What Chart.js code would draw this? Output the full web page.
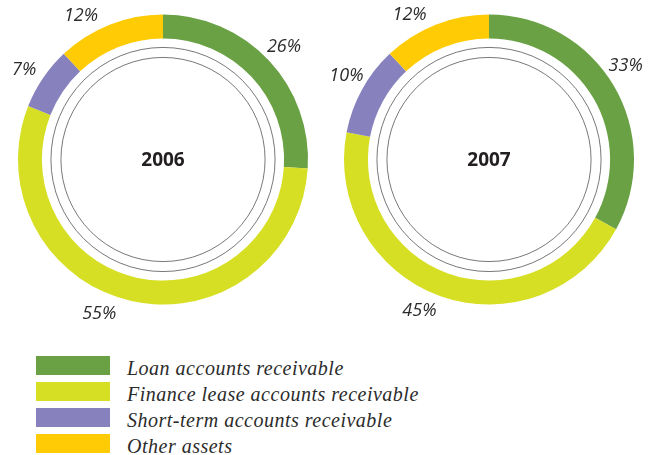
<!DOCTYPE html>
<html>
<head>
<meta charset="utf-8">
<script src="https://cdn.jsdelivr.net/npm/chart.js@4"></script>
<style>
  html, body { margin: 0; padding: 0; background: #fff; }
  body { width: 653px; height: 455px; position: relative; overflow: hidden; }
  .pie { position: absolute; top: 0; width: 326px; height: 340px; }
  .legend { position: absolute; left: 36px; top: 356px; }
  .legend-row { display: flex; align-items: flex-start; height: 26px; }
  .swatch { width: 74px; height: 19px; margin-right: 17px; }
  .legend-label { font-family: 'Liberation Serif', serif; font-style: italic; font-size: 20px; line-height: 20px; letter-spacing: 0.5px; color: #2b2b2b; white-space: nowrap; margin-top: 2px; }
</style>
</head>
<body>
<div class="pie" style="left:0"><canvas id="chart2006"></canvas></div>
<div class="pie" style="left:326px"><canvas id="chart2007"></canvas></div>
<div class="legend" id="legend"></div>

<script>
const categories = [
  'Loan accounts receivable',
  'Finance lease accounts receivable',
  'Short-term accounts receivable',
  'Other assets',
];
const years = ['2006', '2007'];
const values2006 = [26, 55, 7, 12];
const values2007 = [33, 45, 10, 12];

const COLORS = ['#6aa145', '#d6df23', '#8781bd', '#ffcb05'];

// rings, center year and outer percent labels
const decorPlugin = {
  id: 'decor',
  afterDatasetsDraw(chart, args, opts) {
    const arcs = chart.getDatasetMeta(0).data;
    if (!arcs.length) return;
    const { x, y, innerRadius, outerRadius } = arcs[0];
    const ctx = chart.ctx;
    ctx.save();

    ctx.strokeStyle = '#555';
    ctx.lineWidth = 0.8;
    [innerRadius - 9, innerRadius - 19].forEach(r => {
      ctx.beginPath();
      ctx.arc(x, y, r, 0, Math.PI * 2);
      ctx.stroke();
    });

    ctx.fillStyle = '#231f20';
    ctx.font = 'bold 19px "Open Sans", sans-serif';
    ctx.textAlign = 'center';
    ctx.textBaseline = 'middle';
    ctx.fillText(opts.year, x, y + 1);

    ctx.fillStyle = '#2b2b2b';
    ctx.font = 'italic 18px "Open Sans", sans-serif';
    const data = chart.data.datasets[0].data;
    arcs.forEach((a, i) => {
      // label sits near the middle of its slice, nudged a little by hand
      const mid = (a.startAngle + a.endAngle) / 2 + (opts.nudge[i] || 0) * Math.PI / 180;
      const r = outerRadius + 21;
      ctx.fillText(data[i] + '%', x + Math.cos(mid) * r, y + Math.sin(mid) * r + 1);
    });
    ctx.restore();
  },
};

function makeChart(id, values, year, nudge) {
  return new Chart(document.getElementById(id), {
    type: 'doughnut',
    data: {
      labels: categories,
      datasets: [{
        data: values,
        backgroundColor: COLORS,
        borderWidth: 0,
        hoverOffset: 0,
      }],
    },
    options: {
      responsive: true,
      maintainAspectRatio: false,
      animation: false,
      cutout: '83.5%',
      layout: { padding: { top: 14.5, bottom: 35.5, left: 18, right: 18 } },
      plugins: {
        legend: { display: false },
        tooltip: { enabled: false },
        decor: { year, nudge },
      },
    },
    plugins: [decorPlugin],
  });
}

makeChart('chart2006', values2006, years[0], [0, 10, -1, -8]);
makeChart('chart2007', values2007, years[1], [-4, 5, 2, -7]);

// Legend
const legend = document.getElementById('legend');
categories.forEach((c, i) => {
  const row = document.createElement('div');
  row.className = 'legend-row';
  row.innerHTML = `<div class="swatch" style="background:${COLORS[i]}"></div><span class="legend-label">${c}</span>`;
  legend.appendChild(row);
});
</script>
</body>
</html>
